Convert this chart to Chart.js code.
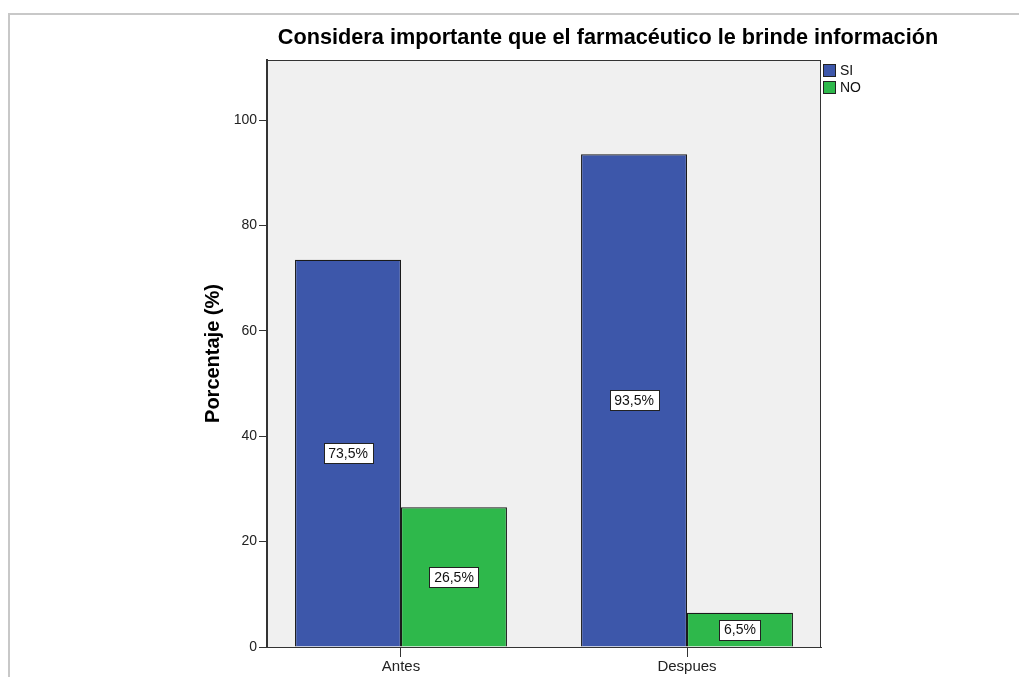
<!DOCTYPE html>
<html>
<head>
<meta charset="utf-8">
<script src="https://cdn.jsdelivr.net/npm/chart.js@4.4.1/dist/chart.umd.min.js"></script>
<style>
    html, body { margin: 0; padding: 0; background: #fff; overflow: hidden; }
    #frame { position: absolute; left: 8px; top: 13px; width: 1100px; height: 700px; border: 2px solid #c8c8c8; box-sizing: border-box; }
    #wrap { position: absolute; left: 0; top: 0; width: 1019px; height: 677px; }
</style>
</head>
<body>
<div id="frame"></div>
<div id="wrap"><canvas id="chart" width="1019" height="677"></canvas></div>
<script>
const chartTitle = 'Considera importante que el farmacéutico le brinde información'
const yTitle = 'Porcentaje (%)'
const categories = ['Antes', 'Despues']
const seriesNames = ['SI', 'NO']
const siValues = [73.5, 93.5]
const noValues = [26.5, 6.5]
const yTicks = [0, 20, 40, 60, 80, 100]

const FONT = '"Liberation Sans", Arial, sans-serif'
const colors = ['#3d57aa', '#2eb84b']

function ToPoints(values) {
    return values.map((v, i) => ({ x: i, y: v }))
}

// percent with a decimal comma, e.g. 73,5%
function FormatPct(v) {
    return v.toFixed(1).replace('.', ',') + '%'
}

const frameAndLabels = {
    id: 'frameAndLabels',
    beforeDraw(chart) {
        let { ctx, chartArea: a } = chart
        ctx.save()
        ctx.fillStyle = '#f0f0f0'
        ctx.fillRect(a.left, a.top, a.right - a.left, a.bottom - a.top)
        ctx.restore()
    },
    afterDatasetsDraw(chart) {
        let { ctx } = chart
        ctx.save()
        ctx.font = '14px ' + FONT
        ctx.textAlign = 'center'
        ctx.textBaseline = 'middle'
        chart.data.datasets.forEach((ds, di) => {
            chart.getDatasetMeta(di).data.forEach((bar, i) => {
                let { x, y, base } = bar.getProps(['x', 'y', 'base'], true)
                let text = FormatPct(ds.data[i].y)
                let w = Math.round(ctx.measureText(text).width + 9)
                let h = 20
                let cy = (y + base) / 2
                let left = Math.round(x - w / 2) + 0.5
                let top = Math.round(cy - h / 2) + 0.5
                ctx.fillStyle = '#fff'
                ctx.fillRect(left, top, w, h)
                ctx.strokeStyle = '#222'
                ctx.lineWidth = 1
                ctx.strokeRect(left, top, w, h)
                ctx.fillStyle = '#111'
                ctx.fillText(text, x, cy + 1)
            })
        })
        ctx.restore()
    },
    afterDraw(chart) {
        let { ctx, chartArea: a } = chart
        ctx.save()
        // plot frame
        ctx.strokeStyle = '#333'
        ctx.lineWidth = 1
        ctx.strokeRect(a.left + 0.5, a.top + 0.5, a.right - a.left - 1, a.bottom - a.top)
        // title
        ctx.fillStyle = '#000'
        ctx.font = 'bold 21.7px ' + FONT
        ctx.textAlign = 'center'
        ctx.textBaseline = 'middle'
        ctx.fillText(chartTitle, 608, 38)
        // legend
        ctx.font = '14px ' + FONT
        ctx.textAlign = 'left'
        chart.data.datasets.forEach((ds, i) => {
            let top = 64 + i * 17
            ctx.fillStyle = ds.backgroundColor
            ctx.fillRect(a.right + 2, top, 13, 13)
            ctx.strokeStyle = '#222'
            ctx.strokeRect(a.right + 2.5, top + 0.5, 12, 12)
            ctx.fillStyle = '#111'
            ctx.fillText(ds.label, a.right + 19, top + 7)
        })
        ctx.restore()
    }
}

new Chart(document.getElementById('chart'), {
    type: 'bar',
    data: {
        datasets: seriesNames.map((name, i) => ({
            label: name,
            data: ToPoints(i === 0 ? siValues : noValues),
            backgroundColor: colors[i],
            borderColor: '#1a1a1a',
            borderWidth: 1.2,
            categoryPercentage: 0.741,
            barPercentage: 1,
        }))
    },
    options: {
        responsive: false,
        animation: false,
        layout: { padding: { left: 201, right: 198, top: 60, bottom: 0 } },
        plugins: {
            legend: { display: false },
            title: { display: false },
            tooltip: { enabled: false },
        },
        scales: {
            x: {
                type: 'linear',
                offset: false,
                min: -0.4685,
                max: 1.4685,
                afterBuildTicks: (scale) => { scale.ticks = categories.map((_, i) => ({ value: i })) },
                afterFit: (scale) => { scale.height = 30 },
                grid: { offset: false, drawOnChartArea: false, tickLength: 10, color: '#333' },
                border: { display: true, color: '#333' },
                ticks: {
                    callback: (v) => categories[v],
                    font: { size: 15, family: FONT },
                    color: '#222',
                    padding: 1,
                    maxRotation: 0,
                },
            },
            y: {
                min: 0,
                max: 111.4,
                afterBuildTicks: (scale) => { scale.ticks = yTicks.map(v => ({ value: v })) },
                afterFit: (scale) => { scale.width = 66 },
                grid: { drawOnChartArea: false, tickLength: 8, color: '#333' },
                border: { display: true, color: '#333', width: 2 },
                ticks: { font: { size: 14, family: FONT }, color: '#222', padding: 2 },
                title: {
                    display: true,
                    text: yTitle,
                    font: { size: 20, weight: 'bold', family: FONT },
                    color: '#000',
                    padding: { top: 0, bottom: 0 },
                },
            },
        },
    },
    plugins: [frameAndLabels],
})
</script>
</body>
</html>
